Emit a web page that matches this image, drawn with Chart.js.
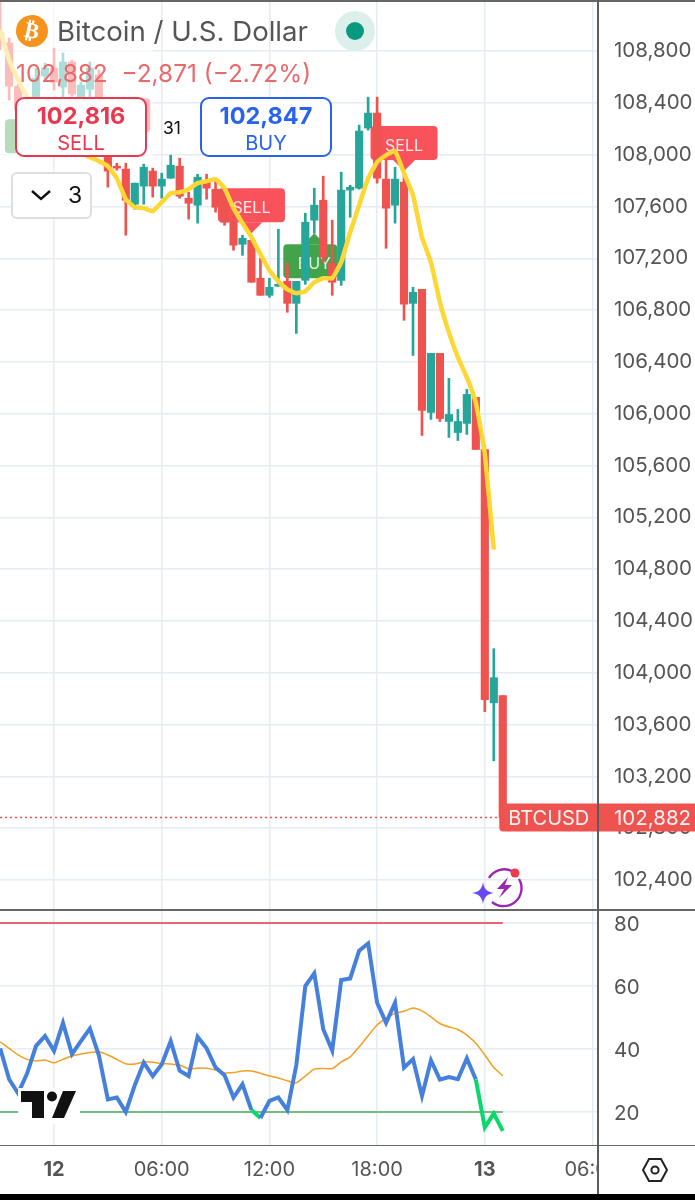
<!DOCTYPE html>
<html>
<head>
<meta charset="utf-8">
<title>Bitcoin / U.S. Dollar</title>
<script src="https://cdn.jsdelivr.net/npm/chart.js@4"></script>
<style>
  html,body{margin:0;padding:0;background:#fff;font-family:Inter,Roboto,sans-serif;}
  #page{position:relative;width:695px;height:1200px;overflow:hidden;background:#fff;}
  canvas{position:absolute;left:0;}
  .abs{position:absolute;}
  .quote{position:absolute;top:97px;width:128px;height:56px;border:2px solid;border-radius:9px;background:#fff;text-align:center;}
  .quote b{display:block;font-size:23.5px;line-height:26px;margin-top:4px;font-weight:700;}
  .quote span{display:block;font-size:20px;line-height:28px;}
</style>
</head>
<body>
<div id="page">
  <canvas id="priceChart" width="695" height="910" style="top:0"></canvas>
  <canvas id="rsiChart" width="695" height="284" style="top:910px"></canvas>

  <!-- dimmed area behind the header -->
  <div class="abs" style="left:0;top:0;width:153px;height:156px;background:rgba(255,255,255,.62)"></div>

  <div class="abs" style="left:16px;top:15px;width:32px;height:32px;border-radius:50%;background:#f7931a;color:#fff;font:bold 22px/32px 'DejaVu Sans';text-align:center;transform:rotate(12deg)">₿</div>
  <div class="abs" style="left:57px;top:14px;font-size:27.6px;line-height:34px;color:#555;white-space:nowrap">Bitcoin / U.S. Dollar</div>
  <div class="abs" style="left:335px;top:11px;width:40px;height:40px;border-radius:50%;background:#dcefeb"></div>
  <div class="abs" style="left:346px;top:22px;width:18px;height:18px;border-radius:50%;background:#089981"></div>
  <div class="abs" style="left:16px;top:59px;font-size:24.4px;line-height:28px;color:#ea6a6c;white-space:pre">102,882  −2,871 (−2.72%)</div>

  <div class="quote" style="left:15px;border-color:#e8384f;color:#e8384f"><b>102,816</b><span>SELL</span></div>
  <div class="abs" style="left:163px;top:118px;font-size:17.5px;line-height:20px;color:#111">31</div>
  <div class="quote" style="left:200px;border-color:#2962ef;color:#2962ef"><b>102,847</b><span>BUY</span></div>

  <div class="abs" style="left:11px;top:172px;width:77px;height:43px;border:2px solid #dedede;border-radius:6px;background:#fff">
    <svg class="abs" style="left:17px;top:14px" width="22" height="14" viewBox="0 0 22 14"><path d="M2 3 L11 11 L20 3" fill="none" stroke="#111" stroke-width="2.4"/></svg>
    <div class="abs" style="left:55px;top:7px;font-size:23px;line-height:28px;color:#111">3</div>
  </div>

  <!-- spark badge -->
  <svg class="abs" style="left:472px;top:866px" width="54" height="42" viewBox="0 0 54 42">
    <path d="M17 12 A18 18 0 0 1 40 5 M47 13 A18 18 0 0 1 20 36" fill="none" stroke="#9c27b0" stroke-width="2.4"/>
    <path d="M36 11 L25 23 L32 23 L27 32 L40 19 L33 19 Z" fill="#9c27b0"/>
    <path d="M11 16 C12 23 15 26 22 27 C15 28 12 31 11 38 C10 31 7 28 0 27 C7 26 10 23 11 16 Z" fill="#6c47f5"/>
    <circle cx="43" cy="7" r="4.5" fill="#ef3b4c"/>
  </svg>

  <!-- tradingview mark -->
  <div class="abs" style="left:18px;top:1088px;width:62px;height:36px;background:#fff"></div>
  <svg class="abs" style="left:21px;top:1091px" width="56" height="28" viewBox="0 0 56 28">
    <path d="M0 0 H23 V27 H11 V11 H0 Z" fill="#111"/>
    <circle cx="31" cy="5.5" r="5" fill="#111"/>
    <path d="M42 0 H55 L43 27 H31 Z" fill="#111"/>
  </svg>

  <!-- pane frame -->
  <div class="abs" style="left:0;top:0;width:695px;height:1.5px;background:#666"></div>
  <div class="abs" style="left:0;top:909px;width:695px;height:1.5px;background:#666"></div>
  <div class="abs" style="left:0;top:1144.5px;width:695px;height:1.5px;background:#666"></div>
  <div class="abs" style="left:598px;top:1146px;width:97px;height:48px;background:#fff"></div>
  <div class="abs" style="left:597px;top:0;width:2px;height:1194px;background:#5c5c5c"></div>
  <svg class="abs" style="left:641px;top:1157px" width="28" height="26" viewBox="0 0 28 26">
    <path d="M8 2 H20 L26 13 L20 24 H8 L2 13 Z" fill="none" stroke="#222" stroke-width="2"/>
    <circle cx="14" cy="13" r="3.6" fill="none" stroke="#222" stroke-width="2"/>
  </svg>
  <div class="abs" style="left:0;top:1194px;width:695px;height:6px;background:#000"></div>
</div>

<script>
// half-hour candles, index 0 is the "12" day tick
const candleIdx = [-6,-5,-4,-3,-2,-1,0,1,2,3,4,5,6,7,8,9,10,11,12,13,14,15,16,17,18,19,20,21,22,23,24,25,26,27,28,29,30,31,32,33,34,35,36,37,38,39,40,41,42,43,44,45,46,47,48,49,50];
const opens = [108939,108862,108529,108329,108437,108607,108669,108522,108715,108421,108506,108615,108228,107911,107888,107617,107757,107873,107757,107818,107911,107664,107610,107788,107733,107726,107478,107308,107339,107046,106914,106984,107022,106852,107030,107494,107648,107161,107030,107726,107741,108205,108321,107811,107610,107788,106852,106960,106010,106466,105940,105855,105925,106126,105724,103768,103823];
const closes = [108862,108529,108344,108421,108591,108669,108560,108715,108468,108537,108669,108305,107873,107896,107648,107780,107903,107757,107811,107919,107679,107625,107826,107741,107594,107478,107301,107355,107015,106914,106976,106999,106852,107022,107478,107610,107208,107015,107726,107749,108182,108321,107818,107587,107811,106845,106937,106025,106466,105963,105994,105940,106149,105724,103792,103962,102882];
const highs = [109180,108900,108540,108430,108669,108707,108823,108785,108730,108560,108715,108653,108267,107934,107934,107780,107927,107896,107857,107996,107973,107710,107849,107849,107803,107741,107532,107378,107378,107200,107046,107424,107161,107022,107548,107741,107834,107494,107865,107764,108228,108444,108444,107958,107903,107865,106976,106960,106466,106466,106273,106033,106188,106126,105755,104186,103823];
const lows = [108810,108421,108300,108310,108421,108591,108499,108444,108452,108406,108444,108267,107749,107880,107378,107579,107617,107672,107664,107818,107664,107502,107471,107656,107556,107455,107262,107223,107015,106914,106899,106984,106783,106620,106999,107393,107169,106914,106991,107517,107733,108189,107780,107277,107471,106721,106450,105832,105956,105940,105817,105793,105840,105724,103699,103320,102882];

// yellow moving average, stops one candle before the last
const maIdx = [-6,-5,-4,-3,-2,-1,0,1,2,3,4,5,6,7,8,9,10,11,12,13,14,15,16,17,18,19,20,21,22,23,24,25,26,27,28,29,30,31,32,33,34,35,36,37,38,39,40,41,42,43,44,45,46,47,48,49];
const maValues = [108962,108730,108576,108444,108344,108251,108174,108112,108066,108019,107981,107950,107911,107818,107656,107594,107587,107563,107633,107702,107710,107733,107780,107795,107811,107741,107587,107471,107362,107231,107107,107022,106960,106930,106945,107015,107046,107046,107169,107401,107610,107818,107942,107996,108027,107857,107687,107362,107169,106860,106628,106435,106280,106087,105693,104951];

const lastPrice = 102882;
const lastPriceLabel = 'BTCUSD';

// buy/sell flags: candle index and the price the flag points at
const signalTypes = ['SELL','BUY','SELL','BUY','SELL'];
const signalIdx = [7,-2,22,29,39];
const signalPrices = [108089,108359,107393,107393,107873];

const rsiValues = [40.2,30.4,25.9,32.2,41,44.1,39.4,48.3,38.4,42.5,46.5,38,24,24.6,20,28.5,35.7,31.4,35.1,42.5,33.1,31.4,43.9,40.2,34.1,31.7,24.6,28.8,20.6,18.1,23.5,24.6,20.6,34.9,60,64,46.3,39.5,61.9,62.4,71.2,73.5,54.7,48.3,54.7,34.1,36.8,25.1,36.4,30.3,31.1,30.4,37,30.3,15.1,19.5,14];
const rsiMaValues = [42.3,40.2,38.1,36.7,36.2,36.5,35.6,36.7,37.8,38.4,38.9,39.1,38.1,36.7,35.3,35.2,35.9,35.8,35.4,35.2,34.9,33.7,33.9,33.9,33.3,32.4,32.5,33,33,32.3,31.4,30.8,29.9,29.3,31.4,33.6,33.8,33.8,35.9,37.5,40.7,44.2,47.6,49.7,51.3,52,53,52.1,50.2,48.1,47,46.2,44.4,41.8,38.1,34.1,31.5];
const rsiUpper = 80;
const rsiLower = 20;

const priceTicks = [102400,102800,103200,103600,104000,104400,104800,105200,105600,106000,106400,106800,107200,107600,108000,108400,108800];
const rsiTicks = [20,40,60,80];
const timeTicks = [0,12,24,36,48,60];
const timeLabels = ['12','06:00','12:00','18:00','13','06:00'];
const dayTicks = [0,48];

const UP = '#26a69a';
const DOWN = '#ef5350';
const GRID = '#e4ecf4';
const TEXT = '#555';
const FONT = 'Inter, Roboto, sans-serif';

const X_MIN = -6.017;
const X_MAX = 60.5;
const candleColors = closes.map((c,i) => c >= opens[i] ? UP : DOWN);

Chart.defaults.font.family = FONT;
Chart.defaults.animation = false;

function xAxis(showLabels){
  return {
    type:'linear', min:X_MIN, max:X_MAX, offset:false,
    afterBuildTicks: s => { s.ticks = timeTicks.map(v => ({value:v})); },
    afterFit: s => {
      s.height = showLabels ? 49 : 0;
      s.paddingLeft = 0; s.paddingRight = 0;
    },
    grid:{color:GRID, lineWidth:1.5, drawTicks:false, offset:false},
    border:{display:false},
    ticks:{
      display:showLabels, autoSkip:false, maxRotation:0, padding:13, color:TEXT,
      callback: v => timeLabels[timeTicks.indexOf(v)],
      font: ctx => ({size:20, family:FONT, weight: ctx.tick && dayTicks.includes(ctx.tick.value) ? 'bold' : 'normal'})
    }
  };
}

function yAxis(min, max, tickList, fmt, nudge){
  return {
    position:'right', min, max,
    afterBuildTicks: s => { s.ticks = tickList.map(v => ({value:v})); },
    afterFit: s => {
      s.width = 98;
      s.paddingTop = 0; s.paddingBottom = 0;
    },
    grid:{color:GRID, lineWidth:1.5, drawTicks:false},
    border:{display:false},
    ticks:{padding:17, labelOffset:nudge, color:TEXT, font:{size:20.5, family:FONT}, callback:fmt}
  };
}

// flags sit under the candles, so draw them before the datasets
const signalFlags = {
  id:'signalFlags',
  beforeDatasetsDraw(chart){
    const {ctx, scales:{x,y}} = chart;
    ctx.save();
    signalTypes.forEach((type,i) => {
      const px = x.getPixelForValue(signalIdx[i]);
      const tip = y.getPixelForValue(signalPrices[i]);
      const sell = type === 'SELL';
      const w = sell ? 67 : 54, h = 34, gap = 11;
      const boxX = sell ? px - w/2 : px - w/2 - 4;
      const top = sell ? tip - gap - h : tip + gap;
      ctx.fillStyle = sell ? '#f9525a' : '#43a34a';
      ctx.beginPath();
      ctx.roundRect(boxX, top, w, h, 4);
      ctx.fill();
      ctx.beginPath();
      ctx.moveTo(px - 11, sell ? top + h : top);
      ctx.lineTo(px, tip);
      ctx.lineTo(px + 11, sell ? top + h : top);
      ctx.fill();
      ctx.fillStyle = 'rgba(255,255,255,.88)';
      ctx.font = '16px ' + FONT;
      ctx.textAlign = 'center';
      ctx.textBaseline = 'middle';
      ctx.fillText(type, px, top + h/2 + 3);
    });
    ctx.restore();
  }
};

// last price tag on top of the axis
const lastPriceTag = {
  id:'lastPriceTag',
  afterDraw(chart){
    const {ctx, width, scales:{x,y}} = chart;
    const py = y.getPixelForValue(lastPrice);
    const left = x.getPixelForValue(candleIdx[candleIdx.length-1]) - 3.5;
    ctx.save();
    ctx.fillStyle = DOWN;
    ctx.beginPath();
    ctx.roundRect(left, py - 14, width - left, 28, [0,0,0,4]);
    ctx.fill();
    ctx.fillStyle = 'rgba(255,255,255,.92)';
    ctx.font = '20px ' + FONT;
    ctx.textBaseline = 'middle';
    ctx.textAlign = 'left';
    ctx.fillText(lastPriceLabel, left + 9, py + 1);
    ctx.font = '20.5px ' + FONT;
    ctx.fillText(lastPrice.toLocaleString('en-US'), 614, py + 1);
    ctx.restore();
  }
};

new Chart(document.getElementById('priceChart'), {
  type:'bar',
  data:{
    datasets:[
      { type:'line', label:'MA', order:0, data:maIdx.map((x,i)=>({x, y:maValues[i]})),
        borderColor:'#fdd835', borderWidth:4.5, pointRadius:0, tension:0.1 },
      { label:'Body', order:1, grouped:false, barThickness:7.5,
        data:candleIdx.map((x,i)=>({x, y:[opens[i], closes[i]]})),
        backgroundColor:candleColors, borderSkipped:false },
      { label:'Wick', order:2, grouped:false, barThickness:2,
        data:candleIdx.map((x,i)=>({x, y:[lows[i], highs[i]]})),
        backgroundColor:candleColors, borderSkipped:false },
      { type:'line', label:'Last', order:3,
        data:[{x:X_MIN, y:lastPrice},{x:candleIdx[candleIdx.length-1], y:lastPrice}],
        borderColor:DOWN, borderWidth:1.5, borderDash:[2,3], pointRadius:0 }
    ]
  },
  options:{
    responsive:false,
    layout:{padding:0},
    plugins:{legend:{display:false}, tooltip:{enabled:false}},
    scales:{
      x:xAxis(false),
      y:yAxis(102168.5, 109194, priceTicks, v => v.toLocaleString('en-US'), 0)
    }
  },
  plugins:[signalFlags, lastPriceTag]
});

new Chart(document.getElementById('rsiChart'), {
  type:'line',
  data:{
    datasets:[
      { label:'RSI', order:0, data:candleIdx.map((x,i)=>({x, y:rsiValues[i]})),
        borderColor:'#4580dc', borderWidth:4, pointRadius:0, borderJoinStyle:'miter',
        segment:{ borderColor: c => c.p1.parsed.y < rsiLower ? '#0bd86c' : undefined } },
      { label:'RSI MA', order:1, data:candleIdx.map((x,i)=>({x, y:rsiMaValues[i]})),
        borderColor:'#f59f1f', borderWidth:1.5, pointRadius:0, tension:0.2 },
      { label:'Upper', order:2, data:[{x:X_MIN, y:rsiUpper},{x:50, y:rsiUpper}],
        borderColor:'#e8364a', borderWidth:1.5, pointRadius:0 },
      { label:'Lower', order:2, data:[{x:X_MIN, y:rsiLower},{x:50, y:rsiLower}],
        borderColor:'#4caf50', borderWidth:1.5, pointRadius:0 }
    ]
  },
  options:{
    responsive:false,
    layout:{padding:0},
    plugins:{legend:{display:false}, tooltip:{enabled:false}},
    scales:{
      x:xAxis(true),
      y:yAxis(9.52, 84.13, rsiTicks, v => String(v), 1.5)
    }
  }
});
</script>
</body>
</html>
